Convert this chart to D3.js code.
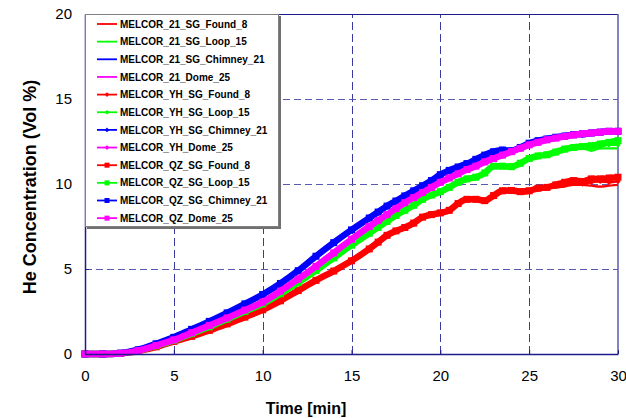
<!DOCTYPE html>
<html>
<head>
<meta charset="utf-8">
<script src="https://cdn.jsdelivr.net/npm/d3@7"></script>
<style>
  html, body { margin: 0; padding: 0; background: #fff; }
  svg { display: block; }
</style>
</head>
<body>
<svg id="chart" width="626" height="418"></svg>
<script>
// Time axis (minutes)
const time = [0,1,2,3,4,5,6,7,8,9,10,11,12,13,14,15,16,16.5,17,17.5,18,18.5,19,19.5,20,20.5,21,21.5,22,22.5,23,23.5,24,24.5,25,25.5,26,26.5,27,27.5,28,28.5,29,29.5,30];

// MELCOR 2.1 results (He, vol %)
const found21   = [0,0,0.03,0.18,0.43,0.75,1.05,1.4,1.78,2.18,2.62,3.15,3.75,4.35,4.9,5.5,6.2,6.6,7.0,7.25,7.45,7.7,8.05,8.2,8.3,8.45,8.85,9.1,9.1,9.0,9.3,9.6,9.6,9.45,9.5,9.7,9.75,9.8,9.85,9.95,9.95,9.9,9.85,9.9,9.95];
const loop21    = [0,0,0.04,0.2,0.48,0.8,1.2,1.6,2.05,2.5,2.95,3.55,4.2,4.9,5.65,6.4,7.1,7.45,7.8,8.15,8.45,8.75,9.1,9.35,9.55,9.8,10.1,10.3,10.4,10.65,11.05,11.05,11.0,11.2,11.5,11.65,11.7,11.85,12.05,12.1,12.1,11.95,12.1,12.1,12.1];
const chimney21 = [0,0,0.05,0.25,0.6,0.98,1.45,1.92,2.42,2.95,3.5,4.15,4.9,5.75,6.55,7.3,8.0,8.35,8.7,9.0,9.3,9.6,9.9,10.2,10.55,10.8,11.0,11.2,11.45,11.7,11.9,12.0,11.95,12.15,12.4,12.55,12.65,12.75,12.82,12.9,12.95,13.0,13.05,13.1,13.1];
const dome21    = [0,0,0.04,0.2,0.5,0.83,1.25,1.68,2.12,2.58,3.05,3.7,4.4,5.15,5.95,6.75,7.5,7.85,8.2,8.55,8.9,9.2,9.5,9.8,10.1,10.35,10.6,10.85,11.05,11.3,11.5,11.7,11.9,12.1,12.3,12.45,12.6,12.7,12.8,12.88,12.95,13.0,13.05,13.1,13.1];

// MELCOR YH results
const foundYH   = [0,0,0.03,0.18,0.43,0.75,1.06,1.41,1.79,2.2,2.63,3.16,3.76,4.36,4.92,5.52,6.22,6.62,7.02,7.27,7.47,7.72,8.07,8.22,8.33,8.5,8.88,9.12,9.08,8.98,9.32,9.62,9.58,9.5,9.58,9.72,9.78,9.85,9.95,10.05,10.0,10.1,10.15,10.1,10.15];
const loopYH    = [0,0,0.04,0.2,0.48,0.8,1.2,1.61,2.06,2.51,2.96,3.56,4.22,4.92,5.67,6.42,7.12,7.47,7.82,8.17,8.47,8.77,9.12,9.37,9.58,9.82,10.12,10.32,10.43,10.68,11.05,11.08,11.05,11.25,11.52,11.66,11.75,11.9,12.05,12.12,12.15,12.1,12.2,12.3,12.3];
const chimneyYH = [0,0,0.05,0.25,0.6,0.98,1.45,1.93,2.43,2.96,3.51,4.16,4.92,5.76,6.56,7.31,8.01,8.36,8.71,9.01,9.31,9.61,9.91,10.21,10.56,10.8,11.02,11.22,11.47,11.72,11.92,12.02,12.0,12.2,12.42,12.57,12.68,12.78,12.85,12.92,12.85,13.0,13.08,13.1,13.12];
const domeYH    = [0,0,0.04,0.2,0.5,0.83,1.25,1.68,2.13,2.59,3.06,3.71,4.41,5.16,5.96,6.76,7.51,7.86,8.21,8.56,8.91,9.21,9.51,9.81,10.11,10.36,10.61,10.86,11.06,11.31,11.51,11.71,11.91,12.11,12.31,12.46,12.61,12.71,12.81,12.89,12.96,13.01,13.06,13.1,13.12];

// MELCOR QZ results
const foundQZ   = [0,0,0.03,0.17,0.42,0.74,1.04,1.39,1.77,2.17,2.6,3.13,3.73,4.33,4.88,5.48,6.18,6.58,6.98,7.24,7.44,7.7,8.05,8.2,8.3,8.45,8.85,9.1,9.1,9.02,9.32,9.6,9.62,9.55,9.6,9.75,9.8,9.95,10.1,10.2,10.15,10.3,10.3,10.35,10.4];
const loopQZ    = [0,0,0.04,0.2,0.48,0.8,1.2,1.6,2.05,2.5,2.95,3.55,4.2,4.9,5.65,6.4,7.1,7.45,7.8,8.15,8.45,8.75,9.1,9.35,9.55,9.8,10.1,10.3,10.4,10.65,11.05,11.05,11.02,11.22,11.5,11.65,11.72,11.88,12.05,12.15,12.2,12.25,12.35,12.45,12.55];
const chimneyQZ = [0,0,0.05,0.25,0.6,0.98,1.45,1.92,2.42,2.95,3.5,4.15,4.9,5.75,6.55,7.3,8.0,8.35,8.7,9.0,9.3,9.6,9.9,10.2,10.55,10.8,11.0,11.2,11.45,11.7,11.9,12.0,11.95,12.15,12.4,12.55,12.65,12.75,12.82,12.9,12.95,13.0,13.05,13.1,13.1];
const domeQZ    = [0,0,0.04,0.2,0.5,0.83,1.25,1.68,2.12,2.58,3.05,3.7,4.4,5.15,5.95,6.75,7.5,7.85,8.2,8.55,8.9,9.2,9.5,9.8,10.1,10.35,10.6,10.85,11.05,11.3,11.5,11.7,11.9,12.1,12.3,12.45,12.6,12.7,12.8,12.88,12.95,13.0,13.05,13.1,13.1];

// Axis ticks
const xTicks = [0,5,10,15,20,25,30];
const yTicks = [0,5,10,15,20];

const seriesNames = [
  "MELCOR_21_SG_Found_8","MELCOR_21_SG_Loop_15","MELCOR_21_SG_Chimney_21","MELCOR_21_Dome_25",
  "MELCOR_YH_SG_Found_8","MELCOR_YH_SG_Loop_15","MELCOR_YH_SG_Chimney_21","MELCOR_YH_Dome_25",
  "MELCOR_QZ_SG_Found_8","MELCOR_QZ_SG_Loop_15","MELCOR_QZ_SG_Chimney_21","MELCOR_QZ_Dome_25"
];
const seriesValues = [found21, loop21, chimney21, dome21, foundYH, loopYH, chimneyYH, domeYH, foundQZ, loopQZ, chimneyQZ, domeQZ];
const colors = ["#ff0000","#00ff00","#0000ff","#ff00ff"];
const markerKinds = ["none","diamond","square"];

const series = seriesNames.map((name, i) => ({
  name,
  values: seriesValues[i],
  color: colors[i % 4],
  marker: markerKinds[Math.floor(i / 4)]
}));

const svg = d3.select("#chart");
const margin = { left: 85, top: 14, right: 8, bottom: 64 };
const W = 626, H = 418;
const plotW = W - margin.left - margin.right;   // 533
const plotH = H - margin.top - margin.bottom;   // 340

const x = d3.scaleLinear().domain([0, 30]).range([margin.left, margin.left + plotW]);
const y = d3.scaleLinear().domain([0, 20]).range([margin.top + plotH, margin.top]);

const axisColor = "#1c1c8a";
const gridColor = "#3a3aa0";

// Grid
const grid = svg.append("g");
grid.selectAll("line.vg").data(xTicks.filter(d => d > 0 && d < 30)).join("line")
  .attr("x1", d => Math.round(x(d)) + 0.5).attr("x2", d => Math.round(x(d)) + 0.5)
  .attr("y1", y(0)).attr("y2", y(20))
  .attr("stroke", gridColor).attr("stroke-width", 1).attr("stroke-dasharray", "8,4");
grid.selectAll("line.hg").data(yTicks.filter(d => d > 0 && d < 20)).join("line")
  .attr("x1", x(0)).attr("x2", x(30))
  .attr("y1", d => Math.round(y(d)) + 0.5).attr("y2", d => Math.round(y(d)) + 0.5)
  .attr("stroke", "#5a5ab0").attr("stroke-width", 1).attr("stroke-dasharray", "7,4");

// Frame: top and right
svg.append("line").attr("x1", x(0)).attr("x2", x(30)).attr("y1", y(20) + 0.5).attr("y2", y(20) + 0.5)
  .attr("stroke", axisColor).attr("stroke-width", 1.2);
svg.append("line").attr("x1", x(30)).attr("x2", x(30)).attr("y1", y(20)).attr("y2", y(0))
  .attr("stroke", "#6464b4").attr("stroke-width", 1.6);

// Series
const line = d3.line().x((d, i) => x(time[i])).y(d => y(d)).curve(d3.curveMonotoneX);
const plot = svg.append("g");
series.forEach(s => {
  const sw = s.marker === "square" ? 6.5 : 2.2;
  plot.append("path").attr("d", line(s.values))
    .attr("fill", "none").attr("stroke", s.color).attr("stroke-width", sw)
    .attr("stroke-linejoin", "round");
  if (s.marker === "diamond") {
    plot.append("g").selectAll("path").data(s.values).join("path")
      .attr("d", d3.symbol(d3.symbolDiamond2, 18)())
      .attr("transform", (d, i) => `translate(${x(time[i])},${y(d)})`)
      .attr("fill", s.color);
  } else if (s.marker === "square") {
    plot.append("g").selectAll("rect").data(s.values).join("rect")
      .attr("x", (d, i) => x(time[i]) - 3.5).attr("y", d => y(d) - 3.5)
      .attr("width", 7).attr("height", 7).attr("fill", s.color);
  }
});

// Axes
const xAxis = svg.append("g").attr("transform", `translate(0,${y(0)})`)
  .call(d3.axisBottom(x).tickValues(xTicks).tickSizeInner(-4).tickSizeOuter(0).tickPadding(16));
const yAxis = svg.append("g").attr("transform", `translate(${x(0)},0)`)
  .call(d3.axisLeft(y).tickValues(yTicks).tickSizeInner(-4).tickSizeOuter(0).tickPadding(13));
[xAxis, yAxis].forEach(a => {
  a.select(".domain").attr("stroke", axisColor).attr("stroke-width", 1.5);
  a.selectAll(".tick line").attr("stroke", axisColor);
  a.selectAll(".tick text").attr("fill", "#000")
    .style("font-family", "'Liberation Sans', Arial, sans-serif").style("font-size", "15px");
});

// Axis titles
svg.append("text").attr("x", 306).attr("y", 414)
  .attr("text-anchor", "middle")
  .style("font-family", "'Liberation Sans', Arial, sans-serif").style("font-weight", "bold").style("font-size", "16px")
  .text("Time [min]");
svg.append("text").attr("transform", `translate(36,${187}) rotate(-90)`)
  .attr("text-anchor", "middle")
  .style("font-family", "'Liberation Sans', Arial, sans-serif").style("font-weight", "bold").style("font-size", "18px")
  .text("He Concentration (Vol %)");

// Legend
const lg = svg.append("g");
const lgX = 85, lgY = 14, lgW = 194, lgH = 213;
lg.append("rect").attr("x", lgX + 2).attr("y", lgY + 2).attr("width", lgW).attr("height", lgH).attr("fill", "#707070");
lg.append("rect").attr("x", lgX + 0.5).attr("y", lgY + 0.5).attr("width", lgW - 1).attr("height", lgH - 1)
  .attr("fill", "#fff").attr("stroke", "#808080").attr("stroke-width", 1);
series.forEach((s, i) => {
  const cy = 24 + i * 17.65;
  const g = lg.append("g").attr("transform", `translate(0,${cy})`);
  g.append("line").attr("x1", 97).attr("x2", 117).attr("y1", 0).attr("y2", 0)
    .attr("stroke", s.color).attr("stroke-width", 1.8);
  if (s.marker === "diamond") {
    g.append("path").attr("d", d3.symbol(d3.symbolDiamond2, 14)()).attr("transform", "translate(107,0)").attr("fill", s.color);
  } else if (s.marker === "square") {
    g.append("rect").attr("x", 104.5).attr("y", -2.5).attr("width", 5).attr("height", 5).attr("fill", s.color);
  }
  g.append("text").attr("x", 120).attr("y", 3.6)
    .style("font-family", "'Liberation Sans', Arial, sans-serif").style("font-weight", "bold").style("font-size", "10px")
    .text(s.name);
});
</script>
</body>
</html>
